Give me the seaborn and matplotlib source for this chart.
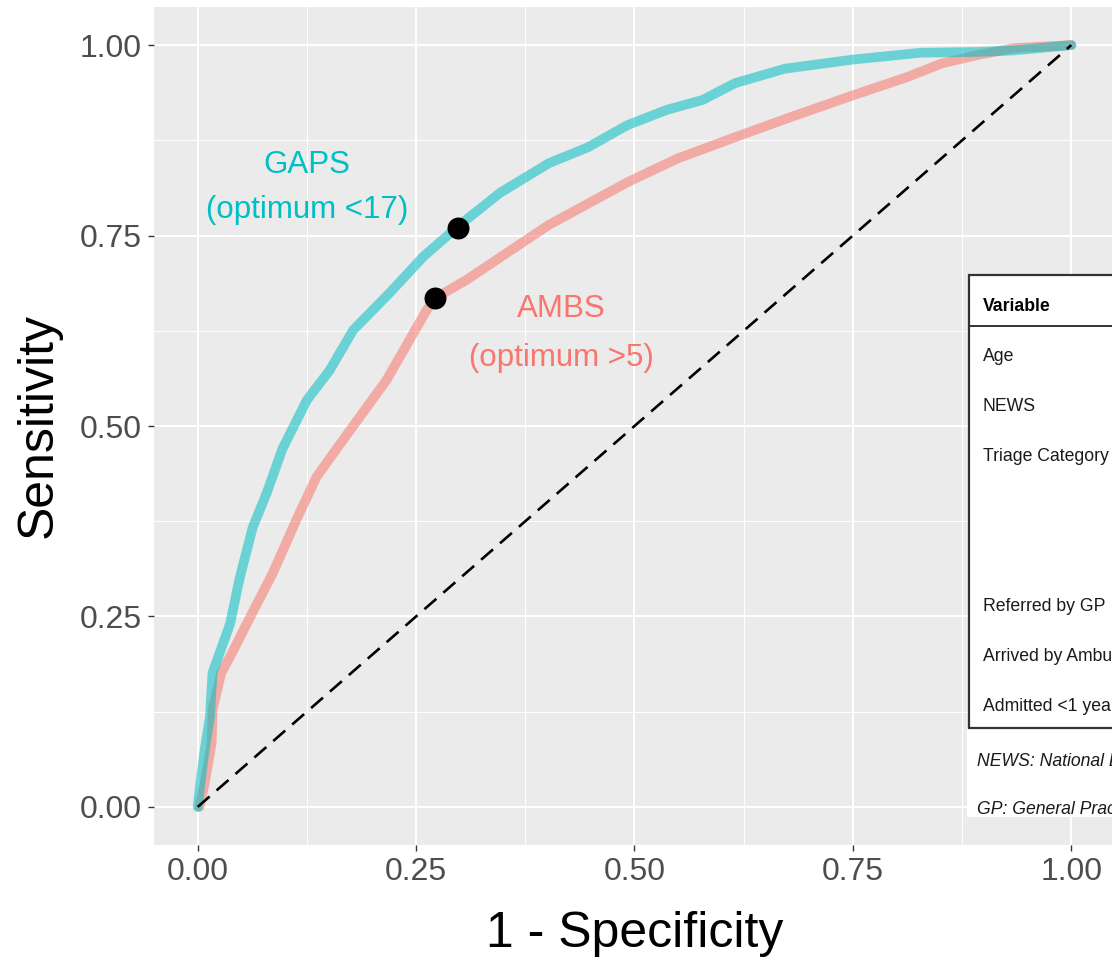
import numpy as np
import pandas as pd
import matplotlib
matplotlib.use('Agg')
import matplotlib.pyplot as plt
import seaborn as sns
from matplotlib.ticker import MultipleLocator
from matplotlib.patches import Rectangle

# ROC curve points
gaps_fpr = [0.0, 0.003, 0.008, 0.014, 0.017, 0.037, 0.048, 0.063, 0.079, 0.097, 0.125, 0.151,
            0.178, 0.220, 0.258, 0.300, 0.346, 0.402, 0.447, 0.492, 0.537, 0.578, 0.615,
            0.672, 0.750, 0.828, 0.893, 0.934, 1.0]
gaps_tpr = [0.0, 0.030, 0.075, 0.118, 0.176, 0.240, 0.300, 0.367, 0.412, 0.470, 0.534, 0.573,
            0.626, 0.675, 0.722, 0.764, 0.806, 0.845, 0.866, 0.895, 0.915, 0.928, 0.950,
            0.969, 0.981, 0.990, 0.991, 0.993, 1.0]
ambs_fpr = [0.002, 0.008, 0.016, 0.017, 0.027, 0.037, 0.060, 0.086, 0.113, 0.136, 0.159, 0.216,
            0.262, 0.272, 0.308, 0.402, 0.492, 0.549, 0.615, 0.680, 0.750, 0.812, 0.852,
            0.893, 0.934, 1.0]
ambs_tpr = [0.0, 0.031, 0.084, 0.127, 0.176, 0.197, 0.249, 0.307, 0.377, 0.433, 0.470, 0.560,
            0.652, 0.668, 0.692, 0.764, 0.820, 0.851, 0.879, 0.906, 0.934, 0.958, 0.976,
            0.987, 0.996, 1.0]
opt_fpr = [0.298, 0.272]
opt_tpr = [0.760, 0.668]
diag = [0, 1]

ticks = [0, 0.25, 0.5, 0.75, 1.0]
tick_labels = ['0.00', '0.25', '0.50', '0.75', '1.00']

table_header = 'Variable'
table_rows = ['Age', 'NEWS', 'Triage Category', '', '', 'Referred by GP',
              'Arrived by Ambulance', 'Admitted <1 year']
table_notes = ['NEWS: National Early Warning Score', 'GP: General Practitioner']

teal = '#00BFC4'
salmon = '#F8766D'

df = pd.concat([
    pd.DataFrame({'fpr': ambs_fpr, 'tpr': ambs_tpr, 'score': 'AMBS'}),
    pd.DataFrame({'fpr': gaps_fpr, 'tpr': gaps_tpr, 'score': 'GAPS'}),
])

sns.set_theme(style='darkgrid', rc={'axes.facecolor': '#EBEBEB', 'grid.color': 'white'})
plt.rcParams['font.family'] = ['Liberation Sans', 'DejaVu Sans']

fig = plt.figure(figsize=(11.12, 9.6), dpi=100)
fig.patch.set_facecolor('white')
ax = fig.add_axes([154 / 1112, 115 / 960, 961 / 1112, 838 / 960])

ax.plot(diag, diag, color='black', lw=1.9, dashes=(6, 3.5), zorder=3)
sns.lineplot(data=df, x='fpr', y='tpr', hue='score', palette={'AMBS': salmon, 'GAPS': teal},
             sort=False, estimator=None, lw=7, alpha=0.55, legend=False, ax=ax, zorder=2)
ax.scatter(opt_fpr, opt_tpr, s=250, color='black', zorder=5, linewidths=0)

ax.text(0.1254, 0.8316, 'GAPS', color=teal, fontsize=22.5, ha='center', va='baseline')
ax.text(0.1254, 0.7726, '(optimum <17)', color=teal, fontsize=22.5, ha='center', va='baseline')
ax.text(0.4164, 0.643, 'AMBS', color=salmon, fontsize=22.5, ha='center', va='baseline')
ax.text(0.4164, 0.5787, '(optimum >5)', color=salmon, fontsize=22.5, ha='center', va='baseline')

ax.set_xlim(-0.05, 1.05)
ax.set_ylim(-0.05, 1.05)
ax.set_xticks(ticks)
ax.set_xticklabels(tick_labels)
ax.set_yticks(ticks)
ax.set_yticklabels(tick_labels)
ax.xaxis.set_minor_locator(MultipleLocator(0.125))
ax.yaxis.set_minor_locator(MultipleLocator(0.125))
ax.grid(which='major', color='white', lw=1.5)
ax.grid(which='minor', color='white', lw=0.75)
ax.tick_params(which='major', length=4, width=1, color='#333333', labelsize=23,
               labelcolor='#4D4D4D', pad=5, bottom=True, left=True)
ax.tick_params(which='minor', length=0)
for s in ax.spines.values():
    s.set_visible(False)
ax.set_xlabel('1 - Specificity', fontsize=36, color='black', labelpad=17)
ax.set_ylabel('Sensitivity', fontsize=36, color='black', labelpad=13)

# inset table, partly cut off by the right edge
ov = fig.add_axes([0, 0, 1, 1])
ov.set_xlim(0, 1112)
ov.set_ylim(960, 0)
ov.axis('off')
ov.patch.set_alpha(0)
note_rect = Rectangle((967, 728), 200, 89, facecolor='white', edgecolor='none')
ov.add_patch(note_rect)
ov.add_patch(Rectangle((969, 275), 200, 453, facecolor='white', edgecolor='#333333', lw=1.6))
ov.plot([969, 1169], [326, 326], color='#333333', lw=1.4)
ov.text(983, 311, table_header, fontsize=12.7, fontweight='bold', color='black', va='baseline')
for i, r in enumerate(table_rows):
    ov.text(983, 361 + 50 * i, r, fontsize=12.7, color='#1a1a1a', va='baseline')
for i, n in enumerate(table_notes):
    t = ov.text(977, 766 + 48 * i, n, fontsize=12.7, style='italic', color='#1a1a1a', va='baseline')
    t.set_clip_path(note_rect)

plt.savefig('out.png', dpi=100)
